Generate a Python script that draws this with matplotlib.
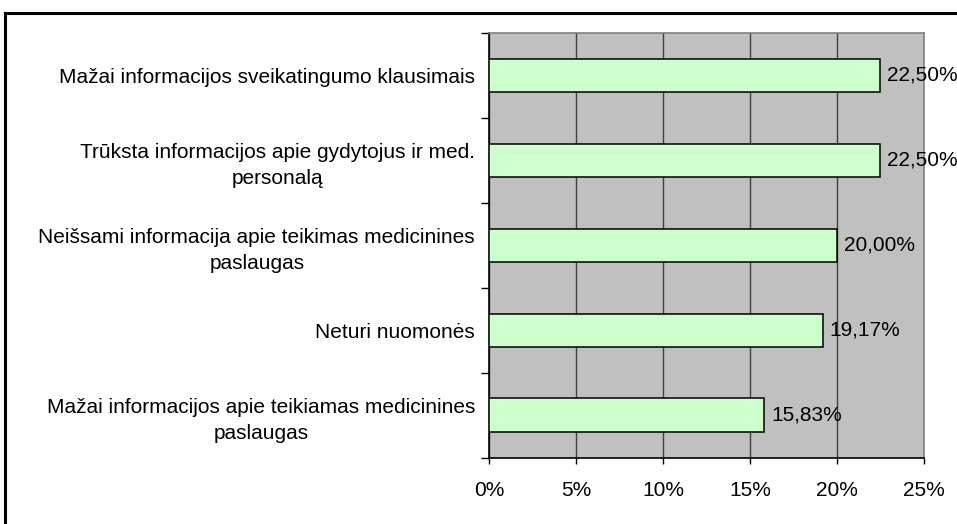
import numpy as np
import matplotlib
matplotlib.use("Agg")
import matplotlib.pyplot as plt
from matplotlib.lines import Line2D
from matplotlib.ticker import MultipleLocator, FuncFormatter

# Data (top to bottom as drawn)
categories = [
    "Mažai informacijos sveikatingumo klausimais",
    "Trūksta informacijos apie gydytojus ir med.\npersonalą",
    "Neišsami informacija apie teikimas medicinines\npaslaugas",
    "Neturi nuomonės",
    "Mažai informacijos apie teikiamas medicinines\npaslaugas",
]
values = [22.50, 22.50, 20.00, 19.17, 15.83]

plt.rcParams['font.family'] = ['Liberation Sans', 'DejaVu Sans']
fs = 15

fig = plt.figure(figsize=(9.57, 5.24), dpi=100)
ax = fig.add_axes([489 / 957, 1 - 457.5 / 524, 435 / 957, 424.5 / 524])

# outer chart border (left and top visible)
fig.add_artist(Line2D([4.5 / 957, 4.5 / 957], [0, 1 - 13 / 524], transform=fig.transFigure,
                      color="black", lw=2.2, solid_capstyle="projecting"))
fig.add_artist(Line2D([4.5 / 957, 1.0], [1 - 13 / 524, 1 - 13 / 524], transform=fig.transFigure,
                      color="black", lw=2.2, solid_capstyle="projecting"))

ax.set_facecolor("#C0C0C0")
y = np.arange(len(categories))
ax.barh(y, values, height=0.39, color="#CCFFCC", edgecolor="black", linewidth=1.1, zorder=3)

for yi, v in zip(y, values):
    ax.text(v + 0.4, yi, f"{v:.2f}".replace(".", ",") + "%", va="center", ha="left",
            fontsize=fs, clip_on=False, zorder=4)

ax.set_xlim(0, 25)
ax.set_ylim(len(categories) - 0.5, -0.5)
ax.xaxis.set_major_locator(MultipleLocator(5))
ax.xaxis.set_major_formatter(FuncFormatter(lambda x, p: f"{x:.0f}%"))
ax.grid(axis="x", color="#404040", linewidth=1.0, zorder=1)

# y ticks at category boundaries, labels at centers
ax.set_yticks(np.arange(-0.5, len(categories)), minor=False)
ax.set_yticklabels([])
ax.set_yticks(y, minor=True)
ax.set_yticklabels(categories, minor=True, fontsize=fs, ha="right", multialignment="center",
                   linespacing=1.45)
ax.tick_params(axis="y", which="minor", length=0, pad=10)
ax.tick_params(axis="y", which="major", length=6, width=1, direction="out")
ax.tick_params(axis="x", length=4, width=1, direction="out", labelsize=fs, pad=13)

for side in ["top", "right"]:
    ax.spines[side].set_color("#808080")
    ax.spines[side].set_linewidth(1.2)
for side in ["left", "bottom"]:
    ax.spines[side].set_color("black")
    ax.spines[side].set_linewidth(1.2)

fig.savefig("out.png", dpi=100)
